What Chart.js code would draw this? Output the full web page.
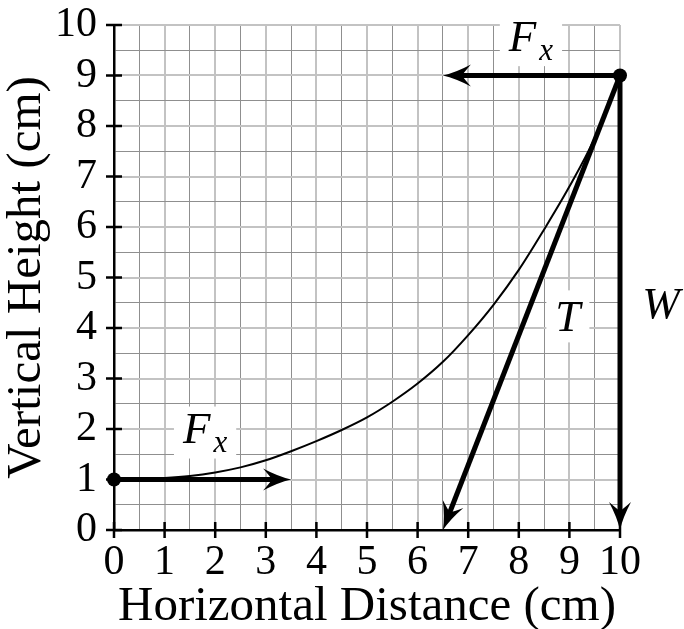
<!DOCTYPE html>
<html>
<head>
<meta charset="utf-8">
<script src="https://cdn.jsdelivr.net/npm/chart.js@4.4.0/dist/chart.umd.min.js"></script>
<style>
    html, body { margin: 0; padding: 0; background: #fff; }
    #wadah { width: 684px; height: 629px; }
</style>
</head>
<body>
<div id="wadah"><canvas id="grafik"></canvas></div>
<script>
// Kurva tali
const curveX = [0, 0.5, 1, 1.5, 2, 2.5, 3, 3.5, 4, 4.5, 5, 5.5, 6, 6.5, 7, 7.5, 8, 8.5, 9, 9.5, 10];
const curveY = [1, 1.01, 1.03, 1.07, 1.14, 1.24, 1.38, 1.56, 1.76, 1.98, 2.23, 2.54, 2.9, 3.33, 3.86, 4.46, 5.15, 5.95, 6.8, 7.76, 9];

// Titik ujung
const dotX = [0, 10];
const dotY = [1, 9];

// Panah gaya: pangkal -> ujung
const arrowFromX = [0, 10, 10, 10];
const arrowFromY = [1, 9, 9, 9];
const arrowToX = [3.5, 6.5, 10, 6.5];
const arrowToY = [1, 9, 0, 0];

// Label gaya
const labelMain = ['F', 'F', 'T', 'W'];
const labelSub = ['x', 'x', '', ''];
const labelX = [1.8, 8.24, 8.97, 10.81];
const labelY = [1.93, 9.7, 4.23, 4.49];

const tickValues = [0, 1, 2, 3, 4, 5, 6, 7, 8, 9, 10];

const serif = '"Liberation Serif", "Times New Roman", serif';

function posisiPanah(chart, i) {
    const { x, y } = chart.scales;
    const fx = x.getPixelForValue(arrowFromX[i]);
    const fy = y.getPixelForValue(arrowFromY[i]);
    const tx = x.getPixelForValue(arrowToX[i]);
    const ty = y.getPixelForValue(arrowToY[i]);
    return { tx, ty, a: Math.atan2(ty - fy, tx - fx) };
}

function ujungPanah(ctx, tx, ty, a) {
    ctx.save();
    ctx.translate(tx, ty);
    ctx.rotate(a);
    ctx.fillStyle = '#000';
    ctx.beginPath();
    ctx.moveTo(0, 0);
    ctx.quadraticCurveTo(-13, -3, -28, -11);
    ctx.quadraticCurveTo(-21, -3, -19, 0);
    ctx.quadraticCurveTo(-21, 3, -28, 11);
    ctx.quadraticCurveTo(-13, 3, 0, 0);
    ctx.closePath();
    ctx.fill();
    ctx.restore();
}

const gambarTambahan = {
    id: 'gambarTambahan',
    beforeDatasetsDraw(chart) {
        const { ctx, scales: { x, y } } = chart;
        ctx.save();

        // Tanda tick yang menyilang sumbu
        ctx.strokeStyle = '#000';
        ctx.lineWidth = 2.5;
        const kiri = chart.chartArea.left;
        const bawah = chart.chartArea.bottom;
        tickValues.forEach(v => {
            const px = x.getPixelForValue(v);
            const py = y.getPixelForValue(v);
            ctx.beginPath();
            ctx.moveTo(px, bawah - 8);
            ctx.lineTo(px, bawah + 8);
            ctx.moveTo(kiri - 8, py);
            ctx.lineTo(kiri + 8, py);
            ctx.stroke();
        });

        // Label dengan kotak putih
        labelMain.forEach((teks, i) => {
            const cx = x.getPixelForValue(labelX[i]);
            const cy = y.getPixelForValue(labelY[i]);
            ctx.font = `italic 45px ${serif}`;
            const wMain = ctx.measureText(teks).width;
            ctx.font = `italic 31px ${serif}`;
            const wSub = labelSub[i] ? ctx.measureText(labelSub[i]).width + 3 : 0;
            const w = wMain + wSub;
            ctx.fillStyle = '#fff';
            ctx.fillRect(cx - w / 2 - 9, cy - 26, w + 18, 52);

            ctx.fillStyle = '#000';
            ctx.textAlign = 'left';
            ctx.textBaseline = 'alphabetic';
            const x0 = cx - w / 2;
            const base = labelSub[i] ? cy + 10.5 : cy + 15;
            ctx.font = `italic 45px ${serif}`;
            ctx.fillText(teks, x0, base);
            if (labelSub[i]) {
                ctx.font = `italic 31px ${serif}`;
                ctx.fillText(labelSub[i], x0 + wMain + 3, base + 9);
            }
        });
        ctx.restore();
    },
    beforeDatasetDraw(chart, args) {
        const ds = chart.data.datasets[args.index];
        if (ds.panahKe === undefined) return;
        const { ctx } = chart;
        const { tx, ty, a } = posisiPanah(chart, ds.panahKe);
        const c = Math.cos(a), s = Math.sin(a);
        const sudut = [[1, -4], [-10, -4], [-10, 4], [1, 4]]
            .map(([u, v]) => [tx + u * c - v * s, ty + u * s + v * c]);
        ctx.save();
        ctx.beginPath();
        ctx.rect(0, 0, chart.width, chart.height);
        ctx.moveTo(sudut[0][0], sudut[0][1]);
        sudut.slice(1).forEach(p => ctx.lineTo(p[0], p[1]));
        ctx.closePath();
        ctx.clip('evenodd');
    },
    afterDatasetDraw(chart, args) {
        const ds = chart.data.datasets[args.index];
        if (ds.panahKe === undefined) return;
        chart.ctx.restore();
    },
    afterDatasetsDraw(chart) {
        arrowToX.forEach((_, i) => {
            const { tx, ty, a } = posisiPanah(chart, i);
            ujungPanah(chart.ctx, tx, ty, a);
        });
    }
};

const dataTitik = dotX.map((v, i) => ({ x: v, y: dotY[i] }));
const dataKurva = curveX.map((v, i) => ({ x: v, y: curveY[i] }));
const dataPanah = arrowFromX.map((v, i) => ({
    data: [{ x: v, y: arrowFromY[i] }, { x: arrowToX[i], y: arrowToY[i] }],
    showLine: true,
    borderColor: '#000',
    borderWidth: 5,
    borderCapStyle: 'butt',
    pointRadius: 0,
    clip: false,
    panahKe: i
}));

const garisKisi = c => (c.tick && Number.isInteger(c.tick.value)) ? '#c3c3c3' : '#8f8f8f';
const tebalKisi = c => (c.tick && Number.isInteger(c.tick.value)) ? 2 : 1;
const labelTick = v => Number.isInteger(v) ? v : '';

new Chart(document.getElementById('grafik'), {
    type: 'scatter',
    data: {
        datasets: [
            {
                data: dataTitik,
                pointRadius: 7,
                pointBackgroundColor: '#000',
                pointBorderWidth: 0,
                showLine: false,
                clip: false
            },
            ...dataPanah,
            {
                data: dataKurva,
                showLine: true,
                borderColor: '#000',
                borderWidth: 2,
                pointRadius: 0,
                cubicInterpolationMode: 'monotone',
                clip: false
            }
        ]
    },
    options: {
        responsive: true,
        maintainAspectRatio: false,
        animation: false,
        layout: { padding: { top: 25, right: 64, left: 0, bottom: 0 } },
        plugins: {
            legend: { display: false },
            tooltip: { enabled: false }
        },
        scales: {
            x: {
                type: 'linear',
                min: 0,
                max: 10,
                afterFit: s => { s.height = 99; },
                ticks: {
                    stepSize: 0.5,
                    autoSkip: false,
                    maxRotation: 0,
                    minRotation: 0,
                    padding: 12,
                    color: '#000',
                    font: { family: serif, size: 42, lineHeight: 1 },
                    callback: labelTick
                },
                grid: { drawTicks: false, color: garisKisi, lineWidth: tebalKisi },
                border: { color: '#000', width: 2.5 },
                title: {
                    display: true,
                    text: 'Horizontal Distance (cm)',
                    color: '#000',
                    font: { family: serif, size: 49, lineHeight: 0.88 },
                    padding: 0
                }
            },
            y: {
                type: 'linear',
                min: 0,
                max: 10,
                afterFit: s => { s.width = 114; },
                ticks: {
                    stepSize: 0.5,
                    autoSkip: false,
                    padding: 17,
                    color: '#000',
                    font: { family: serif, size: 42, lineHeight: 0.2 },
                    callback: labelTick
                },
                grid: { drawTicks: false, color: garisKisi, lineWidth: tebalKisi },
                border: { color: '#000', width: 2.5 },
                title: {
                    display: true,
                    text: 'Vertical Height (cm)',
                    color: '#000',
                    font: { family: serif, size: 49, lineHeight: 1 },
                    padding: { top: 3, bottom: 0 }
                }
            }
        }
    },
    plugins: [gambarTambahan]
});
</script>
</body>
</html>
